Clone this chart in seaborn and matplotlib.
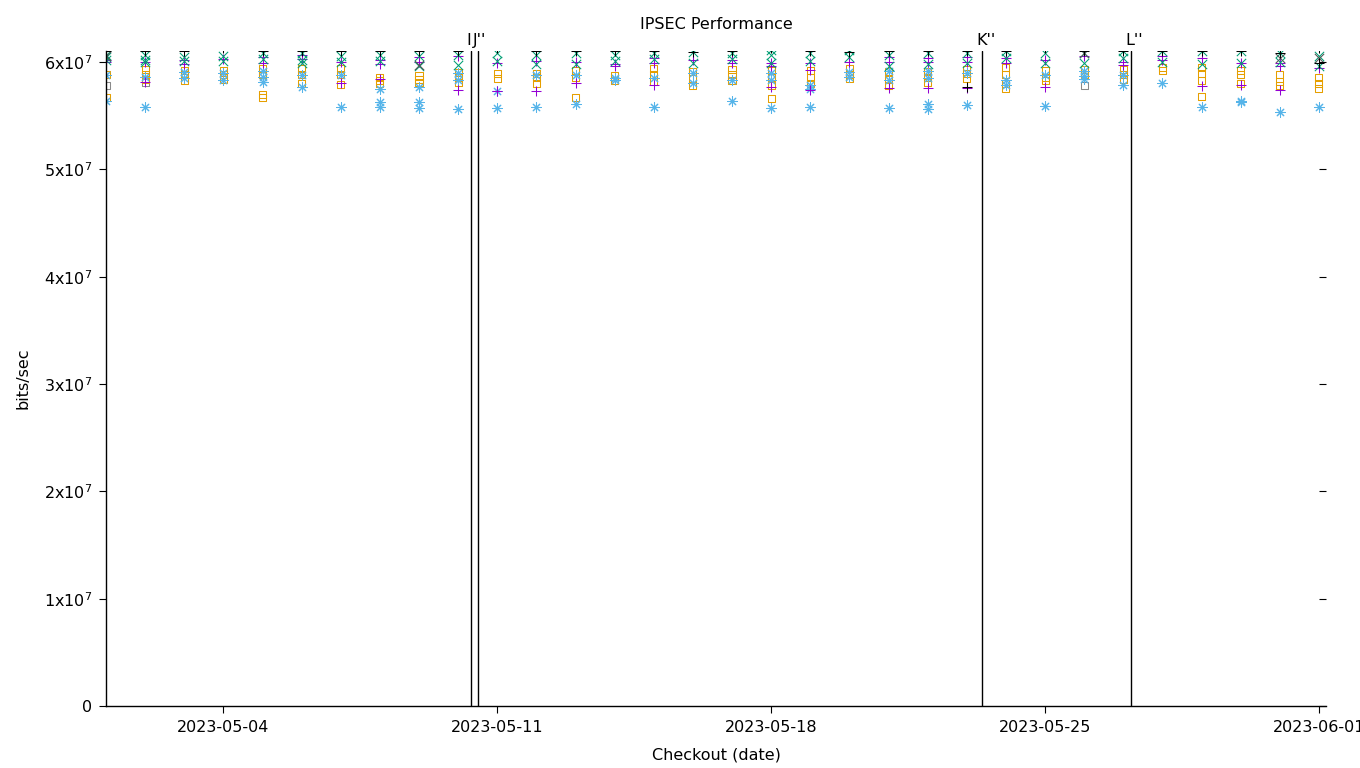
import matplotlib
matplotlib.use('Agg')
import matplotlib.pyplot as plt
import matplotlib.dates as mdates
import pandas as pd
import seaborn as sns

# checkout days (one column of points per day)
days = pd.date_range('2023-05-01', '2023-06-01', freq='D')
labelled_days = ['2023-05-04', '2023-05-11', '2023-05-18', '2023-05-25', '2023-06-01']

# throughput readings per day, in units of 1e7 bits/sec
purple_plus = [
    [6.00, 6.02], [6.00, 5.81], [6.02, 5.98], [6.03], [6.05, 5.99],
    [6.07, 6.03], [6.00, 5.80], [6.02, 5.98, 5.84], [6.05, 6.00], [6.06, 5.74],
    [5.99, 5.73], [6.01, 5.73], [6.00, 5.80], [5.98, 5.96], [6.04, 5.99, 5.79],
    [6.02], [6.02, 5.99], [5.99, 5.96, 5.77], [5.99, 5.93, 5.74], [6.00],
    [6.05, 6.00, 5.76], [6.04, 6.00, 5.76], [6.05, 6.00, 5.76], [6.04, 5.99], [6.02, 5.77],
    [6.06], [6.00, 5.97], [6.06, 6.02], [6.04, 5.78], [5.99, 5.79],
    [5.99, 5.96, 5.74], [5.94],
]
green_x = [
    [6.07, 6.02, 6.05], [6.07, 6.02, 6.00], [6.05, 6.01], [6.06, 6.01], [6.08, 6.03],
    [6.08, 6.02, 5.99], [6.06, 6.00], [6.07, 6.01], [6.06, 5.96], [6.07, 5.97],
    [6.08, 6.01], [6.07, 5.98], [6.08, 5.98], [6.07, 6.01], [6.08, 6.03],
    [6.09, 5.99], [6.08, 6.03], [6.11, 6.07, 5.99], [6.08, 6.01], [6.11, 6.05],
    [6.07, 5.96], [6.08, 5.98], [6.08, 5.99], [6.10, 6.04], [6.08, 5.99],
    [6.08, 5.99], [6.10, 6.04], [6.10, 6.00], [6.10, 5.98], [6.10, 5.99],
    [6.08, 6.00], [6.06, 5.96],
]
blue_star = [
    [5.88, 5.64], [5.86, 5.58], [5.91, 5.85], [5.90, 5.83], [5.92, 5.86, 5.81],
    [5.88, 5.77], [5.88, 5.58], [5.75, 5.63, 5.58], [5.77, 5.63, 5.57], [5.90, 5.83, 5.56],
    [5.73, 5.57], [5.88, 5.58], [5.88, 5.61], [5.85, 5.83], [5.85, 5.58],
    [5.90, 5.80], [5.83, 5.64], [5.90, 5.83, 5.57], [5.79, 5.75, 5.58], [5.91, 5.86],
    [5.92, 5.83, 5.57], [5.92, 5.85, 5.61, 5.56], [5.90, 5.60], [5.83, 5.79], [5.88, 5.59],
    [5.92, 5.87, 5.84], [5.88, 5.79], [5.80], [5.58], [5.64, 5.63],
    [5.53], [5.58],
]
orange_square = [
    [5.88, 5.67], [5.93, 5.88, 5.84], [5.92, 5.88, 5.83], [5.92, 5.88, 5.84], [5.94, 5.88, 5.70, 5.67],
    [5.94, 5.88, 5.80], [5.94, 5.88, 5.79], [5.86, 5.83, 5.80], [5.87, 5.84, 5.81], [5.90, 5.86, 5.81],
    [5.89, 5.85], [5.89, 5.86, 5.80], [5.92, 5.86, 5.67], [5.87, 5.83], [5.94, 5.88, 5.82],
    [5.91, 5.85, 5.78], [5.93, 5.88, 5.83], [5.92, 5.86, 5.78, 5.66], [5.92, 5.86, 5.80], [5.94, 5.88, 5.85],
    [5.91, 5.84, 5.78], [5.91, 5.86, 5.81], [5.93, 5.89, 5.85], [5.95, 5.88, 5.80, 5.75], [5.92, 5.86, 5.83],
    [5.93, 5.88], [5.93, 5.88, 5.84], [5.95, 5.92], [5.95, 5.89, 5.83, 5.68], [5.92, 5.88, 5.80],
    [5.88, 5.82, 5.78], [5.86, 5.80, 5.75],
]
black_plus = [
    [6.10], [6.10], [6.10], [6.13], [6.10], [6.10], [6.10], [6.10], [6.10], [6.10],
    [6.13], [6.10], [6.10], [6.10], [6.10], [6.09], [6.10], [6.13], [6.10], [6.09],
    [6.10], [6.10], [6.10, 5.77], [6.10], [6.13], [6.10], [6.10], [6.10], [6.10], [6.10],
    [6.08], [6.13, 5.99],
]
black_x = {'2023-05-01': [6.06], '2023-05-09': [5.97], '2023-05-26': [6.08],
           '2023-05-31': [6.04], '2023-06-01': [6.04]}
grey_square = {'2023-05-01': [5.78], '2023-05-02': [5.81], '2023-05-26': [5.78]}

# event markers along the top
event_labels = ['I', "J''", "K''", "L''"]
event_times = ['2023-05-10 07:50', '2023-05-10 12:05', '2023-05-23 09:10', '2023-05-27 04:35']

yticks = [0, 1, 2, 3, 4, 5, 6]
ytick_labels = ['0', r'1x10$^{7}$', r'2x10$^{7}$', r'3x10$^{7}$', r'4x10$^{7}$',
                r'5x10$^{7}$', r'6x10$^{7}$']


def long_form(per_day):
    if isinstance(per_day, dict):
        rows = [(pd.Timestamp(d), v) for d, vals in per_day.items() for v in vals]
    else:
        rows = [(days[i], v) for i, vals in enumerate(per_day) for v in vals]
    return pd.DataFrame(rows, columns=['date', 'bps'])


sns.set_style('white')
plt.rcParams['font.family'] = ['DejaVu Sans']
plt.rcParams['font.size'] = 11.5
plt.rcParams['text.color'] = 'black'
plt.rcParams['axes.labelcolor'] = 'black'
plt.rcParams['xtick.color'] = 'black'
plt.rcParams['ytick.color'] = 'black'

fig = plt.figure(figsize=(13.6, 7.68), dpi=100)
ax = fig.add_axes([106 / 1360, 62 / 768, 1220 / 1360, 654.7 / 768])

star = (8, 2, 0)
lw = 0.75
sns.scatterplot(data=long_form(grey_square), x='date', y='bps', marker='s', s=26,
                color='#8a8a8a', facecolor='none', edgecolor='#8a8a8a', linewidth=lw, ax=ax)
sns.scatterplot(data=long_form(orange_square), x='date', y='bps', marker='s', s=26,
                color='#e69f00', facecolor='none', edgecolor='#e69f00', linewidth=lw, ax=ax)
sns.scatterplot(data=long_form(blue_star), x='date', y='bps', marker=star, s=45,
                color='#56b4e9', linewidth=lw, ax=ax)
sns.scatterplot(data=long_form(purple_plus), x='date', y='bps', marker='+', s=60,
                color='#9400d3', linewidth=lw, ax=ax)
sns.scatterplot(data=long_form(green_x), x='date', y='bps', marker='x', s=45,
                color='#009e73', linewidth=lw, ax=ax)
sns.scatterplot(data=long_form(black_plus), x='date', y='bps', marker='+', s=55,
                color='black', linewidth=lw, ax=ax, zorder=1.5)
sns.scatterplot(data=long_form(black_x), x='date', y='bps', marker='x', s=45,
                color='#555555', linewidth=lw, ax=ax)

for lab, t in zip(event_labels, event_times):
    ts = pd.Timestamp(t)
    ax.axvline(ts, color='black', linewidth=1.0, zorder=1)
    ax.annotate(lab, xy=(mdates.date2num(ts), 1.0), xycoords=ax.get_xaxis_transform(),
                xytext=(-5, 6), textcoords='offset pixels',
                ha='left', va='baseline', fontsize=11.5, annotation_clip=False)

ax.set_xlim(pd.Timestamp('2023-05-01'), pd.Timestamp('2023-06-01 04:20'))
ax.set_ylim(0, 6.1)

ax.set_xticks([mdates.date2num(pd.Timestamp(d)) for d in labelled_days])
ax.xaxis.set_major_formatter(mdates.DateFormatter('%Y-%m-%d'))
ax.xaxis.set_minor_locator(mdates.DayLocator())
ax.set_yticks(yticks)
ax.set_yticklabels(ytick_labels)

for side in ['top', 'right']:
    ax.spines[side].set_visible(False)
for side in ['left', 'bottom']:
    ax.spines[side].set_color('black')
    ax.spines[side].set_linewidth(1.0)

ax.tick_params(axis='both', which='major', direction='out', length=5, width=0.8,
               color='black', labelsize=11.5, pad=5)
ax.tick_params(axis='x', which='minor', direction='out', length=2.5, width=0.8, color='black')
ax.tick_params(axis='y', left=True)
ax.tick_params(axis='x', bottom=True)

# mirrored y ticks on the right edge
ax2 = ax.twinx()
ax2.set_ylim(0, 6.1)
ax2.set_yticks(yticks)
ax2.tick_params(axis='y', direction='in', length=5, width=0.8, color='black', labelright=False)
for side in ax2.spines:
    ax2.spines[side].set_visible(False)

ax.set_title('IPSEC Performance', fontsize=11.5, pad=16)
ax.set_xlabel('Checkout (date)', fontsize=11.5)
ax.set_ylabel('bits/sec', fontsize=11.5)
ax.xaxis.set_label_coords(0.5, -0.064)
ax.yaxis.set_label_coords(-0.0615, 0.5)

fig.savefig('out.png', dpi=100)
